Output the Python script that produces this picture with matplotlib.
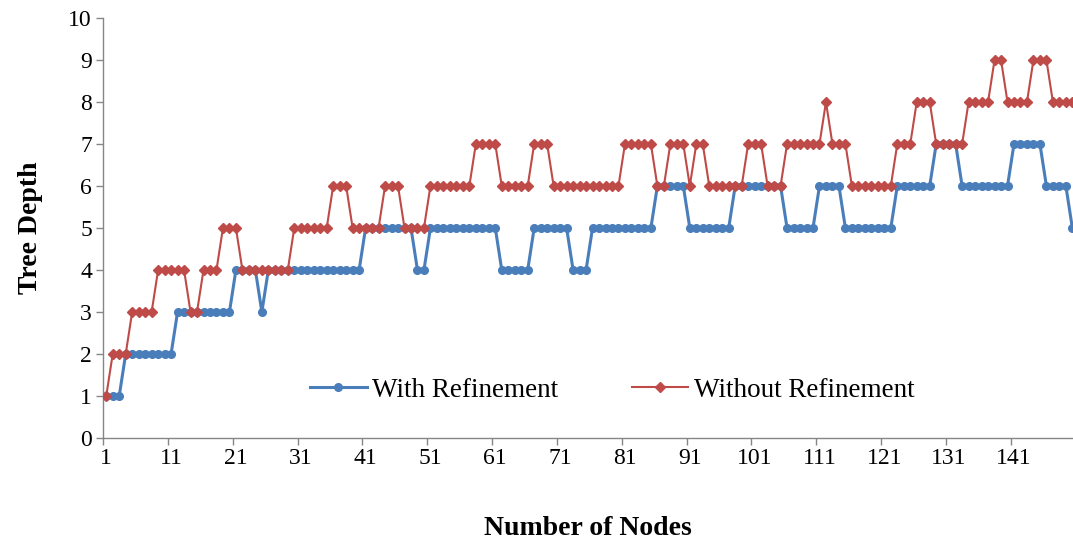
import matplotlib.pyplot as plt
import numpy as np

# step values read as (value, run length)
with_runs = [(1, 3), (2, 8), (3, 9), (4, 4), (3, 1), (4, 15), (5, 8), (4, 2),
             (5, 11), (4, 5), (5, 6), (4, 3), (5, 10), (6, 5), (5, 7), (6, 8),
             (5, 5), (6, 4), (5, 8), (6, 6), (7, 4), (6, 8), (7, 5), (6, 4),
             (5, 1)]
without_runs = [(1, 1), (2, 3), (3, 4), (4, 5), (3, 2), (4, 3), (5, 3), (4, 8),
                (5, 6), (6, 3), (5, 5), (6, 3), (5, 4), (6, 7), (7, 4), (6, 5),
                (7, 3), (6, 11), (7, 5), (6, 2), (7, 3), (6, 1), (7, 2), (6, 6),
                (7, 3), (6, 3), (7, 6), (8, 1), (7, 3), (6, 7), (7, 3), (8, 3),
                (7, 5), (8, 4), (9, 2), (8, 4), (9, 3), (8, 4)]


def expand(runs):
    out = []
    for v, n in runs:
        out += [v] * n
    return out


with_ref = expand(with_runs)
without_ref = expand(without_runs)
nodes = np.arange(1, len(with_ref) + 1)
xtick_labels = [str(i) for i in range(1, 150, 10)]

plt.rcParams['font.family'] = 'Liberation Serif'
fig = plt.figure(figsize=(10.73, 5.47), dpi=100)
ax = fig.add_axes([103 / 1073, 1 - 438 / 547, 970 / 1073, 420 / 547])

ax.plot(nodes, with_ref, color='#4A7EBB', lw=2.2, marker='o', ms=5.5,
        label='With Refinement', zorder=2)
ax.plot(nodes, without_ref, color='#BE4B48', lw=1.5, marker='D', ms=5.5,
        label='Without Refinement', zorder=3)

ax.set_xlim(0.5, 150.1)
ax.set_ylim(0, 10)
ax.set_yticks(range(0, 11))
ax.set_xticks(range(1, 150, 10))
ax.set_xticklabels(xtick_labels)
ax.set_xticks(np.arange(0.5, 150, 10), minor=True)
ax.tick_params(axis='x', which='major', length=0, pad=7, labelsize=17)
ax.tick_params(axis='x', which='minor', length=5, color='#868686', width=1)
ax.tick_params(axis='y', length=5, color='#868686', width=1, pad=3, labelsize=17)
for s in ['top', 'right']:
    ax.spines[s].set_visible(False)
for s in ['left', 'bottom']:
    ax.spines[s].set_color('#868686')
    ax.spines[s].set_linewidth(1)

ax.set_ylabel('Tree Depth', fontsize=20, fontweight='bold', labelpad=18)
ax.set_xlabel('Number of Nodes', fontsize=20, fontweight='bold', labelpad=34)

ax.legend(loc='center', bbox_to_anchor=(0.525, 0.114), ncol=2, frameon=False,
          fontsize=19.5, columnspacing=2.7, handlelength=2.1, handletextpad=0.2)

fig.savefig('out.png', dpi=100)
